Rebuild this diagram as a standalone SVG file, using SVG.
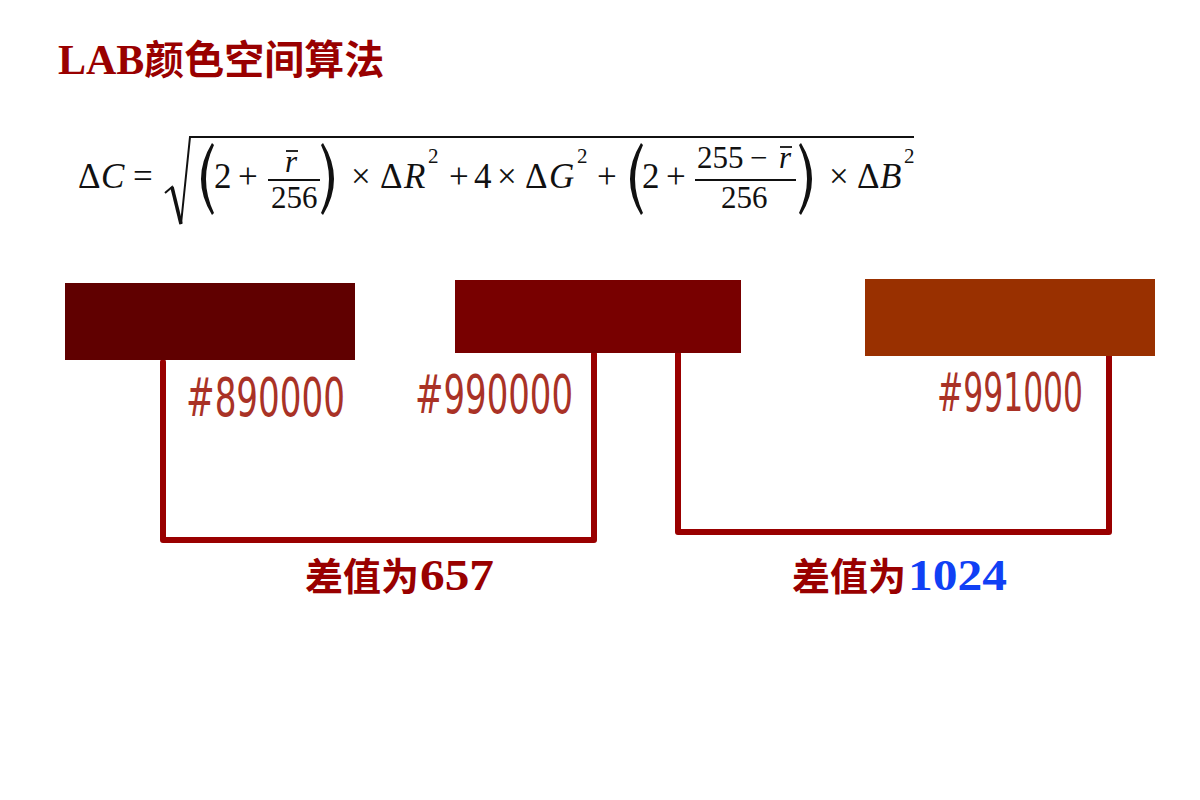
<svg xmlns="http://www.w3.org/2000/svg" width="1200" height="800" viewBox="0 0 1200 800">
<style>
.title{font-family:"Liberation Serif","Noto Sans CJK SC",serif;font-weight:bold;fill:#990000}
.f{font-family:"Liberation Serif",serif;fill:#111;font-size:35px}
.fs{font-family:"Liberation Serif",serif;fill:#111;font-size:31px}
.sup{font-family:"Liberation Serif",serif;fill:#111;font-size:21px}
.i{font-style:italic}
.hex{font-family:"Liberation Sans Narrow","DejaVu Sans Condensed","DejaVu Sans",sans-serif;font-stretch:condensed;font-size:54px;fill:#A93226}
.lbl{font-family:"Liberation Serif","Noto Sans CJK SC",serif;font-weight:bold;font-size:38px;fill:#990000}
.conn{fill:none;stroke:#990000;stroke-width:6;stroke-linejoin:round;stroke-linecap:round}
.paren{fill:#111}
</style>
<rect width="1200" height="800" fill="#fff"/>
<g id="title">
<text class="title" x="58" y="74" font-size="42">LAB<tspan font-family="'Noto Sans CJK SC',sans-serif" font-size="40">颜色空间算法</tspan></text>
</g>
<g id="formula">
<text class="f" x="78" y="188">Δ</text>
<text class="f i" x="101" y="188">C</text>
<text class="f" x="133" y="188">=</text>
<path d="M165,193 L172,187 L181,224 L190,137 L914,137" fill="none" stroke="#111" stroke-width="2"/>
<path d="M172,187 L181,224" fill="none" stroke="#111" stroke-width="3.5"/>
<path class="paren" d="M212,143 Q190,179 212,215 L214,213 Q198,179 214,145 Z"/>
<text class="f" x="214" y="188">2</text>
<text class="f" x="238" y="188">+</text>
<text class="fs i" x="285" y="172">r</text>
<line x1="286" y1="151" x2="298" y2="151" stroke="#111" stroke-width="1.8"/>
<line x1="268" y1="180" x2="320" y2="180" stroke="#111" stroke-width="1.8"/>
<text class="fs" x="271" y="208">256</text>
<path class="paren" d="M323,143 Q345,179 323,215 L321,213 Q337,179 321,145 Z"/>
<text class="f" x="351" y="188">×</text>
<text class="f" x="380" y="188">Δ</text>
<text class="f i" x="404" y="188">R</text>
<text class="sup" x="428" y="163">2</text>
<text class="f" x="449" y="188">+</text>
<text class="f" x="474" y="188">4</text>
<text class="f" x="497" y="188">×</text>
<text class="f" x="525" y="188">Δ</text>
<text class="f i" x="549" y="188">G</text>
<text class="sup" x="577" y="163">2</text>
<text class="f" x="597" y="188">+</text>
<path class="paren" d="M641,143 Q619,179 641,215 L643,213 Q627,179 643,145 Z"/>
<text class="f" x="642" y="188">2</text>
<text class="f" x="666" y="188">+</text>
<text class="fs" x="697" y="168">255</text>
<text class="fs" x="750" y="168">−</text>
<text class="fs i" x="779" y="168">r</text>
<line x1="780" y1="147" x2="792" y2="147" stroke="#111" stroke-width="1.8"/>
<line x1="695" y1="180" x2="796" y2="180" stroke="#111" stroke-width="1.8"/>
<text class="fs" x="721" y="208">256</text>
<path class="paren" d="M801,143 Q823,179 801,215 L799,213 Q815,179 799,145 Z"/>
<text class="f" x="829" y="188">×</text>
<text class="f" x="857" y="188">Δ</text>
<text class="f i" x="880" y="188">B</text>
<text class="sup" x="904" y="163">2</text>
</g>
<g id="connectors">
<path class="conn" d="M163,362 V540 H594 V354"/>
<path class="conn" d="M678,354 V532 H1109 V348"/>
</g>
<g id="swatch1">
<rect x="65" y="283" width="290" height="77" fill="#600000"/>
<text class="hex" x="186" y="416" textLength="159" lengthAdjust="spacingAndGlyphs">#890000</text>
</g>
<g id="swatch2">
<rect x="455" y="280" width="286" height="73" fill="#780000"/>
<text class="hex" x="415" y="413" textLength="158" lengthAdjust="spacingAndGlyphs">#990000</text>
</g>
<g id="swatch3">
<rect x="865" y="279" width="290" height="77" fill="#993000"/>
<text class="hex" x="937" y="411" textLength="146" lengthAdjust="spacingAndGlyphs">#991000</text>
</g>
<g id="label1">
<text class="lbl" x="305" y="590"><tspan font-family="'Noto Sans CJK SC',sans-serif">差值为</tspan><tspan font-size="44" x="420" textLength="74" lengthAdjust="spacingAndGlyphs">657</tspan></text>
</g>
<g id="label2">
<text class="lbl" x="792" y="590"><tspan font-family="'Noto Sans CJK SC',sans-serif">差值为</tspan><tspan font-size="44" x="908" fill="#1040F5" textLength="99" lengthAdjust="spacingAndGlyphs">1024</tspan></text>
</g>
</svg>
